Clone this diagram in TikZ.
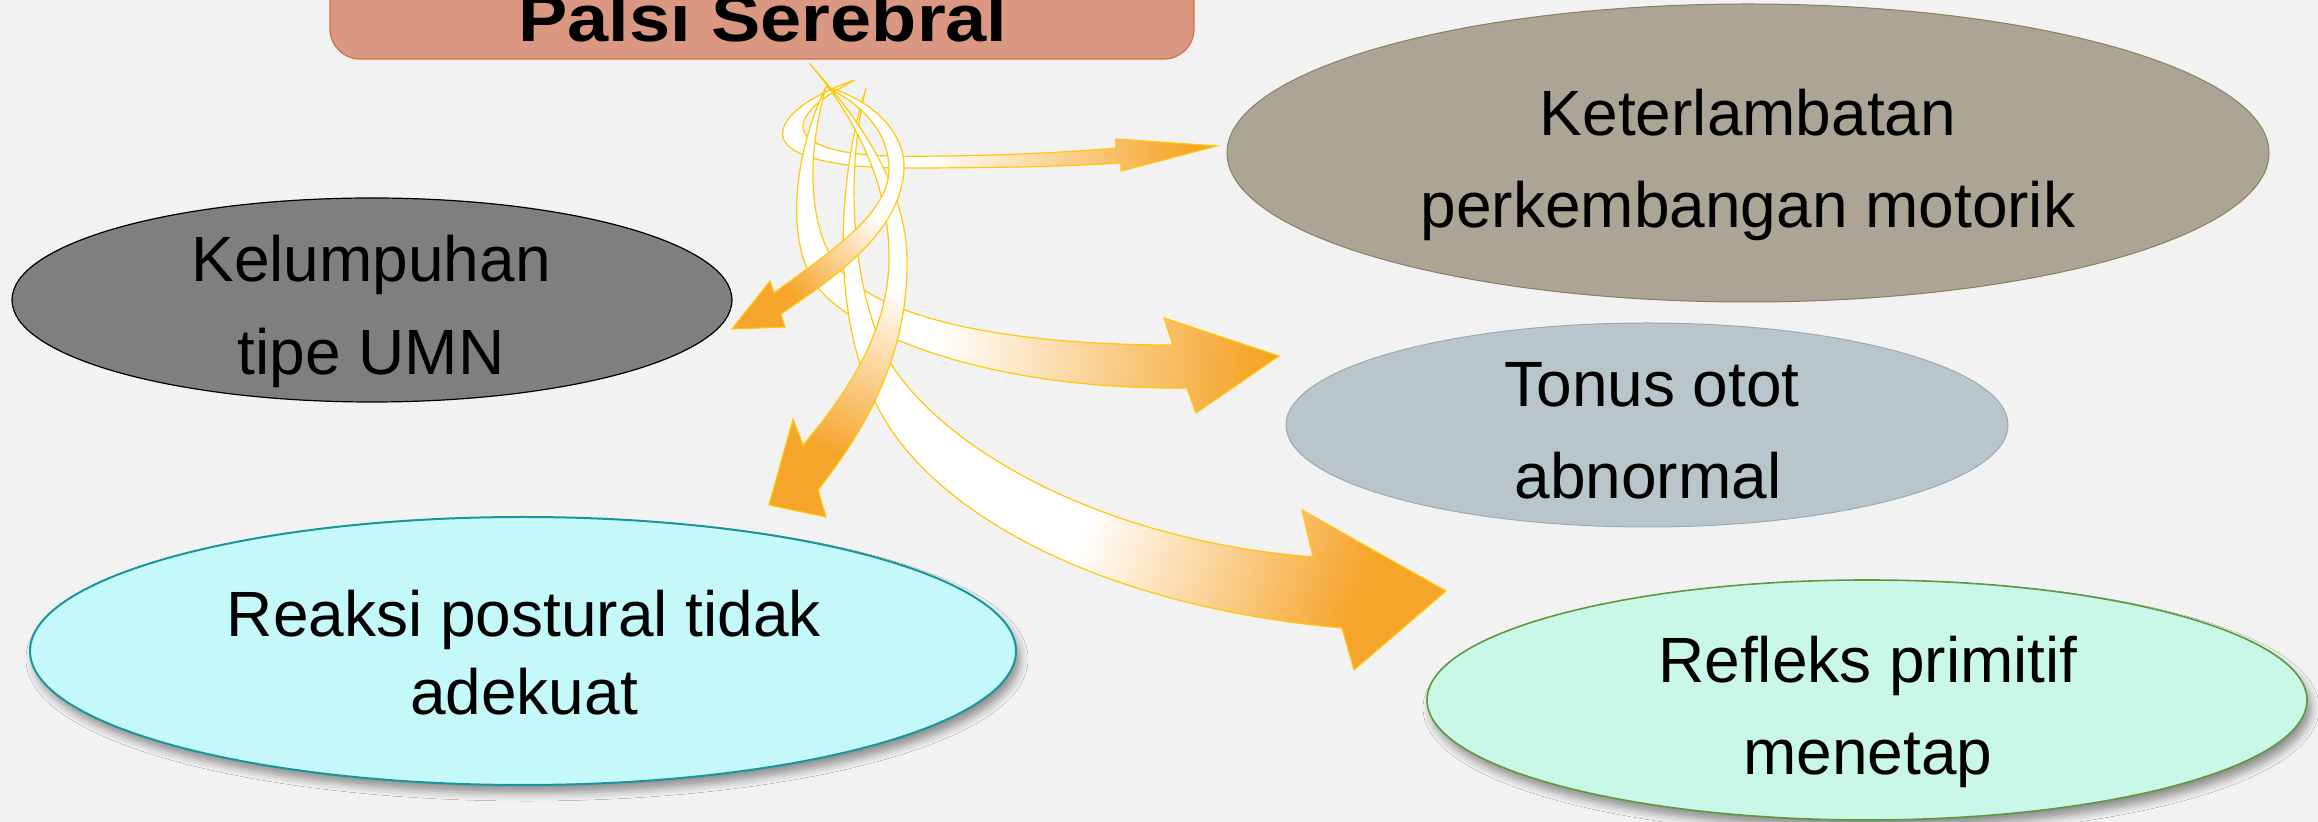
\documentclass[tikz,border=0pt]{standalone}
\usepackage{fontspec}
\setmainfont{Liberation Sans}
\usetikzlibrary{shapes.geometric,shadows.blur}
\definecolor{bgcol}{HTML}{F2F2F2}
\definecolor{titlefill}{HTML}{DA9883}
\definecolor{titleline}{HTML}{D2703F}
\definecolor{ketfill}{HTML}{ACA494}
\definecolor{ketline}{HTML}{8B7D5F}
\definecolor{kelfill}{HTML}{7F7F7F}
\definecolor{tonfill}{HTML}{B8C6CB}
\definecolor{tonline}{HTML}{98ABB2}
\definecolor{reafill}{HTML}{C5F9F9}
\definecolor{realine}{HTML}{17979A}
\definecolor{reffill}{HTML}{C9F7E8}
\definecolor{refline}{HTML}{5E983F}
\definecolor{arrorange}{HTML}{F6A52B}
\definecolor{arrgold}{HTML}{FFC80A}
\pgfdeclarehorizontalshading{shA}{100bp}{color(0bp)=(white); color(42bp)=(white); color(72bp)=(arrorange); color(100bp)=(arrorange)}
\pgfdeclarehorizontalshading{shC}{100bp}{color(0bp)=(white); color(41bp)=(white); color(74bp)=(arrorange); color(100bp)=(arrorange)}
\pgfdeclarehorizontalshading{shE}{100bp}{color(0bp)=(white); color(50bp)=(white); color(73bp)=(arrorange); color(100bp)=(arrorange)}
\pgfdeclarehorizontalshading{shD}{100bp}{color(0bp)=(white); color(47bp)=(white); color(71bp)=(arrorange); color(100bp)=(arrorange)}
\pgfdeclarehorizontalshading{shB}{100bp}{color(0bp)=(white); color(41bp)=(white); color(69bp)=(arrorange); color(100bp)=(arrorange)}
\begin{document}
\begin{tikzpicture}[x=0.5pt,y=-0.5pt,
  titlebox/.style={rectangle, rounded corners=15pt, fill=titlefill, draw=titleline, line width=0.6pt, inner sep=0pt},
  oval/.style={ellipse, inner sep=0pt, outer sep=0pt},
  txt/.style={inner sep=0pt, font=\fontsize{32pt}{38pt}\selectfont, text=black},
  arrowband/.style={shade, draw=arrgold, line width=0.6pt, line join=miter},
  shadowA/.style={blur shadow={shadow xshift=2pt, shadow yshift=-4pt, shadow blur radius=4pt, shadow opacity=40}}
]
\useasboundingbox (0,0) rectangle (2318,822);
\fill[bgcol] (0,0) rectangle (2318,822);

% title
\node[titlebox, minimum width=432pt, minimum height=59pt] (title) at (762,0) {};
\node[inner sep=0pt, anchor=base, font=\fontsize{33pt}{38pt}\selectfont\bfseries] (titletext) at (763,42) {\scalebox{1.12}[1]{Palsi Serebral}};

% ellipses
\node[oval, fill=ketfill, draw=ketline, line width=0.5pt, minimum width=521pt, minimum height=149pt] (ket) at (1748,153) {};
\node[oval, fill=kelfill, draw=black, line width=0.6pt, minimum width=360pt, minimum height=102pt] (kel) at (372,300) {};
\node[oval, fill=tonfill, draw=tonline, line width=0.5pt, minimum width=361pt, minimum height=102pt] (ton) at (1647,425) {};
\node[oval, shadowA, fill=reafill, draw=realine, line width=1pt, minimum width=493pt, minimum height=134pt] (rea) at (523,651) {};
\node[oval, shadowA, fill=reffill, draw=refline, line width=0.8pt, minimum width=440pt, minimum height=120pt] (ref) at (1867,700) {};

% texts
\node[txt, anchor=base] (ket1) at (1748,136) {Keterlambatan};
\node[txt, anchor=base] (ket2) at (1748,228) {perkembangan motorik};
\node[txt, anchor=base] (kel1) at (371,282) {Kelumpuhan};
\node[txt, anchor=base] (kel2) at (371,375) {tipe UMN};
\node[txt, anchor=base] (ton1) at (1652,407) {Tonus otot};
\node[txt, anchor=base] (ton2) at (1648,499) {abnormal};
\node[txt, anchor=base] (rea1) at (524,637) {Reaksi postural tidak};
\node[txt, anchor=base] (rea2) at (524,715) {adekuat};
\node[txt, anchor=base] (ref1) at (1868,683) {Refleks primitif};
\node[txt, anchor=base] (ref2) at (1868,775) {menetap};

% arrow A -> ket
\path[arrowband, shading=shA, shading angle=0]
  (855,80) .. controls (810,95) and (775,120) .. (784,140)
  .. controls (793,160) and (850,168) .. (900,168)
  .. controls (980,168) and (1060,167) .. (1121,163)
  -- (1121,171) -- (1217,146) -- (1116,139) -- (1116,148)
  .. controls (1050,154) and (960,157) .. (890,156)
  .. controls (840,155) and (805,145) .. (803,128)
  .. controls (802,112) and (825,95) .. (855,80) -- cycle;

% arrow C -> ton
\path[arrowband, shading=shC, shading angle=-5]
  (826,87) .. controls (795,150) and (782,245) .. (820,290)
  .. controls (858,335) and (990,390) .. (1187,388)
  -- (1196,413) -- (1279,356) -- (1164,318) -- (1173,345)
  .. controls (1010,345) and (890,320) .. (845,275)
  .. controls (808,238) and (805,160) .. (826,87) -- cycle;

% arrow E -> ref
\path[arrowband, shading=shE, shading angle=-20]
  (866,88) .. controls (840,170) and (830,300) .. (870,390)
  .. controls (915,505) and (1090,605) .. (1342,628)
  -- (1354,670) -- (1446,591) -- (1302,510) -- (1313,557)
  .. controls (1100,540) and (950,450) .. (895,370)
  .. controls (850,300) and (845,170) .. (866,88) -- cycle;

% arrow D -> rea
\path[arrowband, shading=shD, shading angle=250]
  (809,63) .. controls (860,120) and (910,190) .. (907,270)
  .. controls (905,360) and (865,430) .. (818,490)
  -- (826,517) -- (769,505) -- (793,419) -- (803,445)
  .. controls (850,390) and (888,330) .. (889,260)
  .. controls (890,180) and (850,110) .. (809,63) -- cycle;

% arrow B -> kel
\path[arrowband, shading=shB, shading angle=225]
  (826,87) .. controls (875,100) and (906,135) .. (904,170)
  .. controls (900,235) and (830,280) .. (781,314)
  -- (785,327) -- (732,329) -- (770,281) -- (774,293)
  .. controls (825,255) and (890,215) .. (889,168)
  .. controls (888,130) and (860,103) .. (826,87) -- cycle;
\end{tikzpicture}
\end{document}
